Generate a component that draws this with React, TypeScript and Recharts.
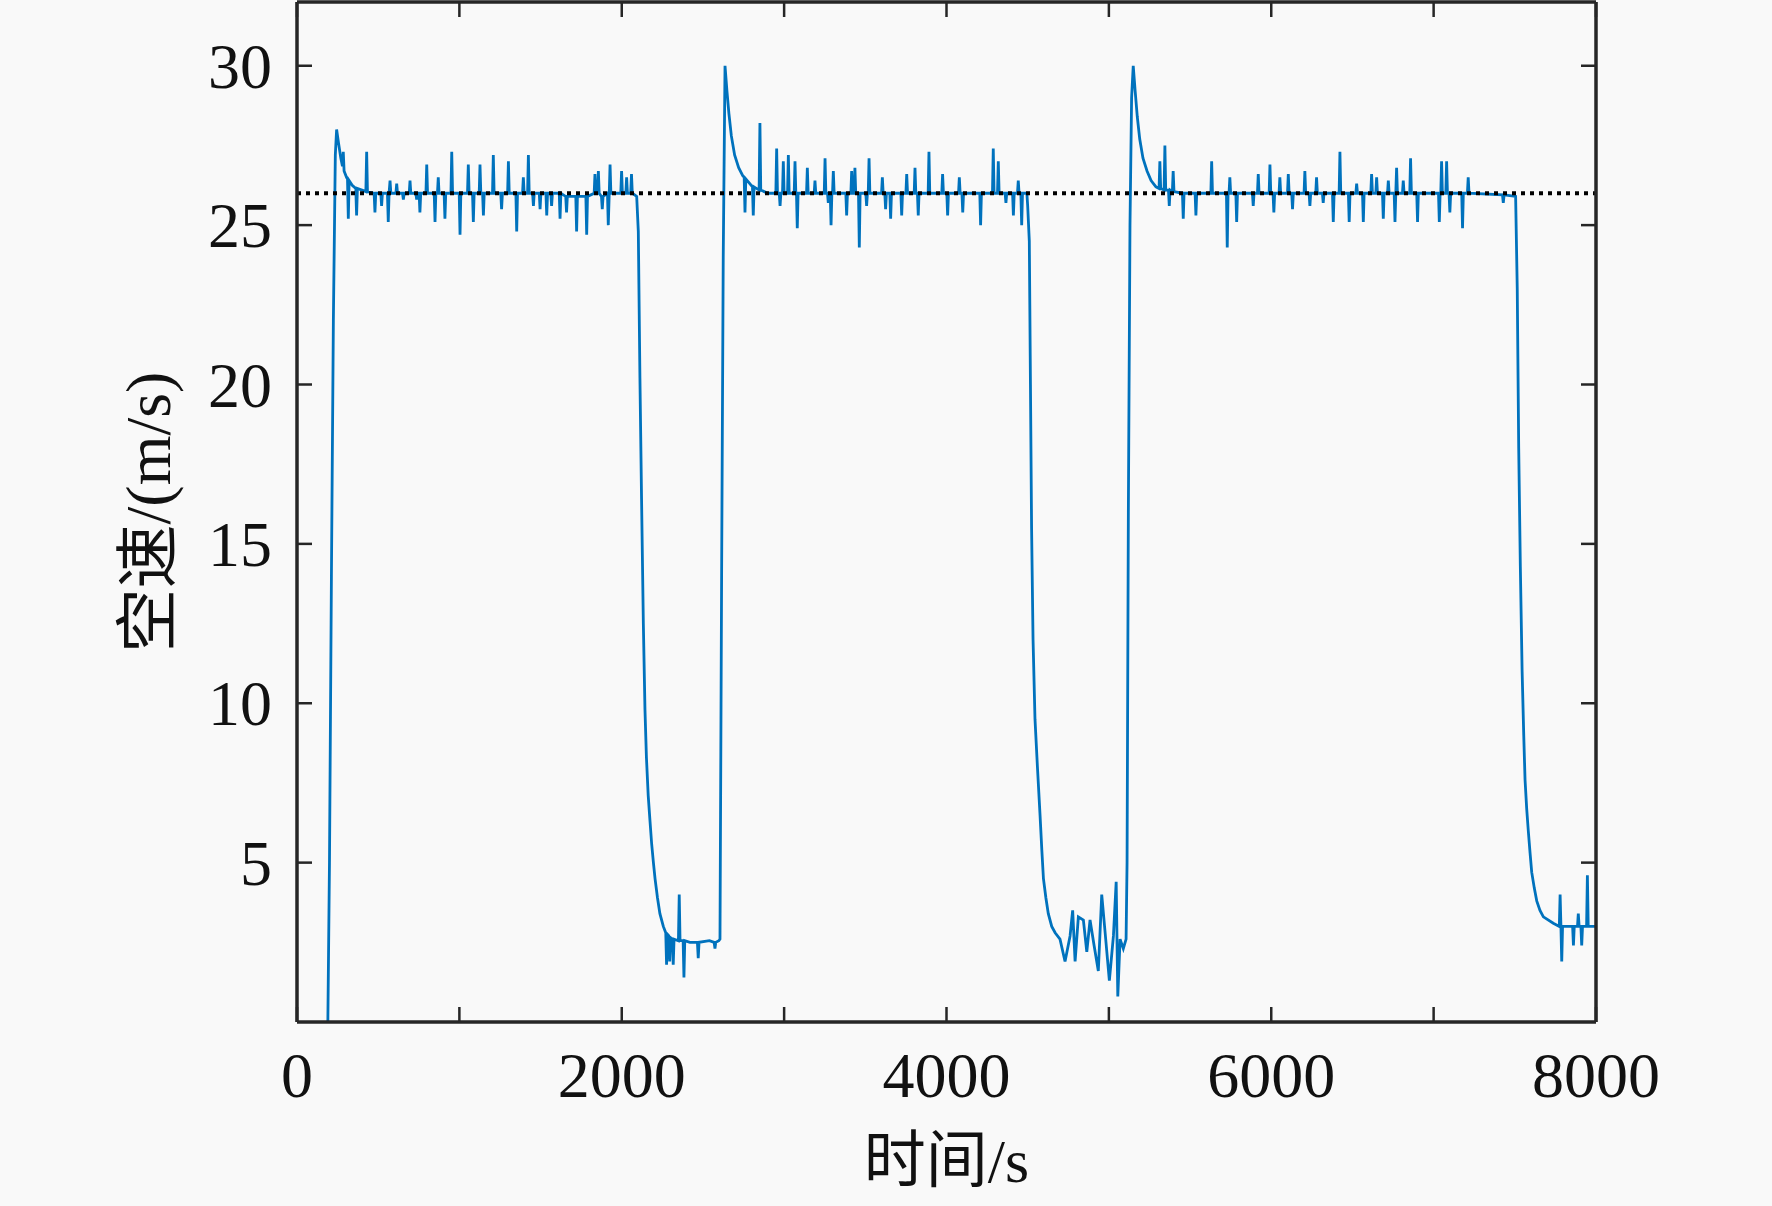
import React from "react";
import { LineChart, Line, XAxis, YAxis, ReferenceLine, Label } from "recharts";

// airspeed samples, [time s, speed m/s]
const climb1: number[][] = [
  [190, 0], [200, 5], [212, 14], [224, 22], [236, 27.2], [244, 28.0],
];

const cruise1: number[][] = [
  [255, 27.6], [270, 27.1], [280, 26.85], [285, 27.3], [290, 26.7], [305, 26.5],
  [311, 26.45], [316, 25.2], [321, 26.4], [340, 26.25], [362, 26.15], [367, 25.3],
  [372, 26.15], [400, 26.1], [424, 26.05], [429, 27.3], [434, 26.05], [475, 26.0],
  [480, 25.4], [485, 26.0], [516, 26.0], [521, 25.6], [526, 26.0], [557, 26.0],
  [562, 25.1], [567, 26.0], [573, 26.4], [578, 26.0], [609, 26.0], [614, 26.3],
  [619, 26.0], [650, 26.0], [655, 25.8], [660, 26.0], [691, 26.0], [696, 26.4],
  [701, 26.0], [732, 26.0], [737, 25.8], [742, 26.0], [752, 26.0], [757, 25.4],
  [762, 26.0], [794, 26.0], [799, 26.9], [804, 26.0], [845, 26.0], [850, 25.1],
  [855, 26.0], [865, 26.0], [870, 26.5], [875, 26.0], [906, 26.0], [911, 25.2],
  [916, 26.0], [948, 26.0], [953, 27.3], [958, 26.0], [999, 26.0], [1004, 24.7],
  [1009, 26.0], [1050, 26.0], [1055, 26.9], [1060, 26.0], [1081, 26.0], [1086, 25.1],
  [1091, 26.0], [1122, 26.0], [1127, 26.9], [1132, 26.0], [1143, 26.0], [1148, 25.3],
  [1153, 26.0], [1204, 26.0], [1209, 27.2], [1214, 26.0], [1255, 26.0], [1260, 25.5],
  [1265, 26.0], [1297, 26.0], [1302, 27.0], [1307, 26.0], [1348, 26.0], [1353, 24.8],
  [1358, 26.0], [1389, 26.0], [1394, 26.5], [1399, 26.0], [1420, 26.0], [1425, 27.2],
  [1430, 26.0], [1451, 26.0], [1456, 25.6], [1461, 26.0], [1492, 26.0], [1497, 25.5],
  [1502, 26.0], [1533, 26.0], [1538, 25.3], [1543, 26.0], [1563, 26.0], [1568, 25.6],
  [1573, 26.0], [1615, 26.0], [1620, 25.2], [1625, 26.0], [1655, 25.9], [1660, 25.4],
  [1665, 25.9], [1717, 25.9], [1722, 24.8], [1727, 25.9], [1779, 25.9], [1784, 24.7],
  [1789, 25.9], [1830, 26.0], [1835, 26.6], [1840, 26.0], [1851, 26.0], [1856, 26.7],
  [1861, 26.0], [1875, 25.9], [1880, 25.5], [1885, 25.9], [1912, 26.0], [1917, 25.0],
  [1923, 26.0], [1928, 26.9], [1933, 26.0], [1994, 26.0], [1999, 26.7], [2004, 26.0],
  [2025, 26.0], [2030, 26.5], [2035, 26.0], [2055, 26.0], [2060, 26.6], [2065, 26.0],
  [2092, 25.9],
];

const descent1: number[][] = [
  [2102, 24.8], [2112, 20.2], [2122, 16.4], [2133, 12.5], [2143, 9.8], [2152, 8.3],
  [2163, 7.1], [2174, 6.3], [2184, 5.6], [2195, 5.0], [2205, 4.5], [2220, 3.9],
  [2235, 3.4], [2256, 3.0], [2271, 2.8], [2276, 1.8], [2281, 2.75], [2290, 2.7],
  [2295, 1.9], [2300, 2.65], [2312, 2.6], [2317, 1.8], [2322, 2.6], [2349, 2.55],
  [2354, 4.0], [2359, 2.55], [2378, 2.55], [2383, 1.4], [2388, 2.55], [2420, 2.5],
  [2466, 2.5], [2471, 2.0], [2476, 2.5], [2540, 2.55], [2569, 2.5], [2574, 2.3],
  [2579, 2.5], [2598, 2.55],
];

const climb2: number[][] = [
  [2605, 2.6], [2615, 14], [2625, 24], [2636, 30.0],
];

const cruise2: number[][] = [
  [2648, 29.2], [2660, 28.5], [2675, 27.8], [2695, 27.2], [2720, 26.8], [2745, 26.55],
  [2754, 26.5], [2759, 25.4], [2764, 26.45], [2805, 26.2], [2810, 25.3], [2815, 26.2],
  [2846, 26.1], [2851, 28.2], [2856, 26.1], [2900, 26.0], [2949, 26.0], [2954, 27.4],
  [2959, 26.0], [2970, 26.0], [2975, 25.6], [2980, 26.0], [2990, 26.0], [2995, 27.0],
  [3000, 26.0], [3021, 26.0], [3026, 27.2], [3031, 26.0], [3062, 26.0], [3067, 27.0],
  [3072, 26.0], [3076, 26.0], [3081, 24.9], [3086, 26.0], [3138, 26.0], [3143, 26.8],
  [3148, 26.0], [3185, 26.0], [3190, 26.4], [3195, 26.0], [3247, 26.0], [3252, 27.1],
  [3257, 26.0], [3267, 26.0], [3272, 25.7], [3277, 26.0], [3284, 26.0], [3289, 25.0],
  [3294, 26.0], [3298, 26.0], [3303, 26.7], [3308, 26.0], [3380, 26.0], [3385, 25.3],
  [3390, 26.0], [3411, 26.0], [3416, 26.7], [3421, 26.0], [3431, 26.0], [3436, 26.8],
  [3441, 26.0], [3458, 26.0], [3463, 24.3], [3468, 26.0], [3503, 26.0], [3508, 25.6],
  [3513, 26.0], [3518, 26.0], [3523, 27.1], [3528, 26.0], [3600, 26.0], [3605, 26.5],
  [3610, 26.0], [3620, 26.0], [3625, 25.5], [3630, 26.0], [3651, 26.0], [3656, 25.2],
  [3661, 26.0], [3719, 26.0], [3724, 25.3], [3729, 26.0], [3750, 26.0], [3755, 26.6],
  [3760, 26.0], [3801, 26.0], [3806, 26.8], [3811, 26.0], [3821, 26.0], [3826, 25.3],
  [3831, 26.0], [3887, 26.0], [3892, 27.3], [3897, 26.0], [3971, 26.0], [3976, 26.6],
  [3981, 26.0], [4002, 26.0], [4007, 25.3], [4012, 26.0], [4074, 26.0], [4079, 26.5],
  [4084, 26.0], [4095, 26.0], [4100, 25.4], [4105, 26.0], [4205, 26.0], [4210, 25.0],
  [4215, 26.0], [4283, 26.0], [4288, 27.4], [4293, 26.0], [4314, 26.0], [4319, 27.0],
  [4324, 26.0], [4361, 26.0], [4366, 25.7], [4371, 26.0], [4407, 26.0], [4412, 25.3],
  [4417, 26.0], [4437, 26.0], [4442, 26.4], [4447, 26.0], [4458, 26.0], [4463, 25.0],
  [4468, 26.0], [4495, 26.0], [4500, 25.6],
];

const descent2: number[][] = [
  [4510, 24.5], [4517, 20], [4524, 15.5], [4533, 12], [4545, 9.5], [4560, 8.0],
  [4576, 6.5], [4587, 5.4], [4597, 4.5], [4612, 3.9], [4627, 3.4], [4648, 3.0],
  [4669, 2.8], [4699, 2.6], [4730, 1.9], [4761, 2.7], [4777, 3.5], [4792, 1.9],
  [4812, 3.3], [4843, 3.2], [4864, 2.2], [4884, 3.2], [4909, 2.4], [4935, 1.6],
  [4956, 4.0], [4977, 2.8], [5003, 1.3], [5028, 2.7], [5045, 4.4], [5055, 0.8],
  [5069, 2.6], [5089, 2.3], [5106, 2.6],
];

const climb3: number[][] = [
  [5112, 5], [5120, 16], [5130, 25], [5140, 29], [5150, 30.0],
];

const cruise3: number[][] = [
  [5162, 29.2], [5175, 28.4], [5190, 27.7], [5210, 27.1], [5235, 26.7], [5260, 26.4],
  [5290, 26.2], [5309, 26.15], [5314, 27.0], [5319, 26.15], [5340, 26.1], [5345, 27.5],
  [5350, 26.1], [5367, 26.1], [5372, 25.6], [5377, 26.1], [5391, 26.05], [5396, 26.7],
  [5401, 26.05], [5453, 26.0], [5458, 25.2], [5463, 26.0], [5531, 26.0], [5536, 25.3],
  [5541, 26.0], [5628, 26.0], [5633, 27.0], [5638, 26.0], [5724, 26.0], [5729, 24.3],
  [5734, 26.0], [5740, 26.0], [5745, 26.5], [5750, 26.0], [5782, 26.0], [5787, 25.1],
  [5792, 26.0], [5884, 26.0], [5889, 25.6], [5894, 26.0], [5915, 26.0], [5920, 26.6],
  [5925, 26.0], [5987, 26.0], [5992, 26.9], [5997, 26.0], [6011, 26.0], [6016, 25.4],
  [6021, 26.0], [6048, 26.0], [6053, 26.5], [6058, 26.0], [6100, 26.0], [6105, 26.6],
  [6110, 26.0], [6126, 26.0], [6131, 25.5], [6136, 26.0], [6202, 26.0], [6207, 26.7],
  [6212, 26.0], [6233, 26.0], [6238, 25.6], [6243, 26.0], [6274, 26.0], [6279, 26.5],
  [6284, 26.0], [6315, 26.0], [6320, 25.7], [6325, 26.0], [6377, 26.0], [6382, 25.1],
  [6387, 26.0], [6418, 26.0], [6423, 27.3], [6428, 26.0], [6475, 26.0], [6480, 25.1],
  [6485, 26.0], [6521, 26.0], [6526, 26.3], [6531, 26.0], [6562, 26.0], [6567, 25.1],
  [6572, 26.0], [6613, 26.0], [6618, 26.6], [6623, 26.0], [6644, 26.0], [6649, 26.5],
  [6654, 26.0], [6685, 26.0], [6690, 25.2], [6695, 26.0], [6716, 26.0], [6721, 26.4],
  [6726, 26.0], [6757, 26.0], [6762, 25.1], [6767, 26.0], [6772, 26.8], [6777, 26.0],
  [6808, 26.0], [6813, 26.4], [6818, 26.0], [6853, 26.0], [6858, 27.1], [6863, 26.0],
  [6896, 26.0], [6901, 25.1], [6906, 26.0], [7030, 26.0], [7035, 25.1], [7040, 26.0],
  [7044, 26.0], [7049, 27.0], [7054, 26.0], [7075, 26.0], [7080, 27.0], [7085, 26.0],
  [7095, 26.0], [7100, 25.4], [7105, 26.0], [7173, 26.0], [7178, 24.9], [7183, 26.0],
  [7208, 26.0], [7213, 26.5], [7218, 26.0], [7424, 25.95], [7429, 25.7], [7434, 25.95],
  [7505, 25.9],
];

const descent3: number[][] = [
  [7515, 23], [7524, 18], [7534, 14.3], [7545, 11], [7555, 9.0], [7563, 7.6],
  [7573, 6.7], [7583, 6.0], [7594, 5.3], [7604, 4.7], [7620, 4.2], [7635, 3.8],
  [7655, 3.5], [7676, 3.3], [7737, 3.1], [7774, 3.0], [7779, 4.0], [7784, 3.0],
  [7789, 1.9], [7794, 3.0], [7856, 3.0], [7861, 2.4], [7866, 3.0], [7886, 3.0],
  [7891, 3.4], [7896, 3.0], [7907, 3.0], [7912, 2.4], [7917, 3.0], [7942, 3.0],
  [7947, 4.6], [7952, 3.0], [8000, 3.0],
];

const targetSpeed = 26;
const xTicks = [0, 1000, 2000, 3000, 4000, 5000, 6000, 7000, 8000];
const yTicks = [5, 10, 15, 20, 25, 30];

const series = [
  ...climb1, ...cruise1, ...descent1,
  ...climb2, ...cruise2, ...descent2,
  ...climb3, ...cruise3, ...descent3,
].map(([t, v]) => ({ t, v }));

const AXIS = "#262626";
const FONT = "'Liberation Serif', 'Times New Roman', 'Noto Sans CJK SC', serif";
const TICK_LEN = 15;

function BottomTick(props: any) {
  const { x, y, payload } = props;
  const v = payload.value;
  return (
    <g>
      <line x1={x} x2={x} y1={y} y2={y - TICK_LEN} stroke={AXIS} strokeWidth={2.5} />
      {v % 2000 === 0 && (
        <text x={x} y={y + 75} textAnchor="middle" fontSize={64} fontFamily={FONT} fill="#111">
          {v}
        </text>
      )}
    </g>
  );
}

function TopTick(props: any) {
  const { x, y } = props;
  return <line x1={x} x2={x} y1={y} y2={y + TICK_LEN} stroke={AXIS} strokeWidth={2.5} />;
}

function LeftTick(props: any) {
  const { x, y, payload } = props;
  return (
    <g>
      <line x1={x} x2={x + TICK_LEN} y1={y} y2={y} stroke={AXIS} strokeWidth={2.5} />
      <text x={x - 25} y={y + 22} textAnchor="end" fontSize={64} fontFamily={FONT} fill="#111">
        {payload.value}
      </text>
    </g>
  );
}

function RightTick(props: any) {
  const { x, y } = props;
  return <line x1={x} x2={x - TICK_LEN} y1={y} y2={y} stroke={AXIS} strokeWidth={2.5} />;
}

export default function App() {
  return (
    <div style={{ width: 1772, height: 1206, background: "#f9f9f9" }}>
      <style>{"body{margin:0}"}</style>
      <LineChart
        width={1772}
        height={1206}
        data={series}
        margin={{ top: 0, right: 0, bottom: 0, left: 0 }}
      >
        <XAxis
          xAxisId="b"
          dataKey="t"
          type="number"
          domain={[0, 8000]}
          ticks={xTicks}
          interval={0}
          allowDataOverflow
          height={184}
          tickSize={0}
          tickMargin={0}
          tickLine={false}
          axisLine={{ stroke: AXIS, strokeWidth: 3.5 }}
          tick={<BottomTick />}
        >
          <Label
            content={({ viewBox }: any) => (
              <text
                x={viewBox.x + viewBox.width / 2}
                y={viewBox.y + 160}
                textAnchor="middle"
                fontSize={62}
                fontFamily={FONT}
                fill="#111"
              >
                时间/s
              </text>
            )}
          />
        </XAxis>
        <XAxis
          xAxisId="t"
          orientation="top"
          dataKey="t"
          type="number"
          domain={[0, 8000]}
          ticks={xTicks}
          interval={0}
          allowDataOverflow
          height={2}
          tickSize={0}
          tickMargin={0}
          tickLine={false}
          axisLine={{ stroke: AXIS, strokeWidth: 3.5 }}
          tick={<TopTick />}
        />
        <YAxis
          yAxisId="l"
          type="number"
          domain={[0, 32]}
          ticks={yTicks}
          interval={0}
          allowDataOverflow
          width={297}
          tickSize={0}
          tickMargin={0}
          tickLine={false}
          axisLine={{ stroke: AXIS, strokeWidth: 3.5 }}
          tick={<LeftTick />}
        >
          <Label
            content={({ viewBox }: any) => {
              const cx = viewBox.x + 170;
              const cy = viewBox.y + viewBox.height / 2;
              return (
                <text
                  x={cx}
                  y={cy}
                  transform={`rotate(-90 ${cx} ${cy})`}
                  textAnchor="middle"
                  fontSize={64}
                  fontFamily={FONT}
                  fill="#111"
                >
                  空速/(m/s)
                </text>
              );
            }}
          />
        </YAxis>
        <YAxis
          yAxisId="r"
          orientation="right"
          type="number"
          domain={[0, 32]}
          ticks={yTicks}
          interval={0}
          allowDataOverflow
          width={176}
          tickSize={0}
          tickMargin={0}
          tickLine={false}
          axisLine={{ stroke: AXIS, strokeWidth: 3.5 }}
          tick={<RightTick />}
        />
        <Line
          xAxisId="b"
          yAxisId="l"
          type="linear"
          dataKey="v"
          stroke="#0072BD"
          strokeWidth={2.8}
          dot={false}
          isAnimationActive={false}
        />
        <ReferenceLine
          xAxisId="b"
          yAxisId="l"
          y={targetSpeed}
          stroke="#000"
          strokeWidth={4}
          strokeDasharray="4 5"
        />
      </LineChart>
    </div>
  );
}
